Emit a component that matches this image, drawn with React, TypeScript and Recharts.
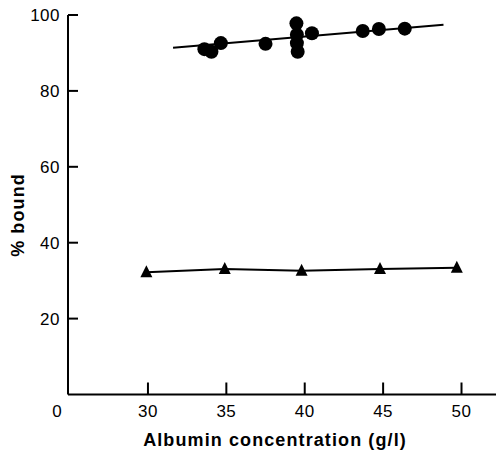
import React from 'react'
import { ComposedChart, Scatter, XAxis, YAxis, Label } from 'recharts'

// axis ticks (first x tick is the broken-axis origin, shown as "0")
const xTicks = [24.9, 30, 35, 40, 45, 50]
const yTicks = [20, 40, 60, 80, 100]

// circles: % bound vs albumin
const circleX = [33.6, 34.05, 34.65, 37.5, 39.47, 39.5, 39.5, 39.55, 40.46, 43.7, 44.73, 46.38]
const circleY = [91.0, 90.3, 92.6, 92.4, 97.8, 94.8, 92.6, 90.3, 95.2, 95.8, 96.3, 96.4]

// triangles
const triX = [29.9, 34.9, 39.8, 44.8, 49.7]
const triY = [32.2, 33.1, 32.6, 33.1, 33.4]

// fitted line through circles
const fitX = [31.6, 48.85]
const fitY = [91.4, 97.4]

const zip = (xs: number[], ys: number[]) => xs.map((x, i) => ({ x, y: ys[i] }))

const circles = zip(circleX, circleY)
const triangles = zip(triX, triY)
const fit = zip(fitX, fitY)

const font = '"Liberation Sans", Arial, sans-serif'

const XTick = (props: any) => {
  const { x, y, payload } = props
  if (payload.value === xTicks[0]) {
    return (
      <text x={x - 11} y={y + 22} textAnchor="middle" fontSize={17} fontFamily={font} fill="#000">
        0
      </text>
    )
  }
  return (
    <g>
      <line x1={x} x2={x} y1={y} y2={y - 12} stroke="#000" strokeWidth={2} />
      <text x={x} y={y + 22} textAnchor="middle" fontSize={17} letterSpacing={0.5} fontFamily={font} fill="#000">
        {payload.value}
      </text>
    </g>
  )
}

const YTick = (props: any) => {
  const { x, y, payload } = props
  return (
    <g>
      <line x1={x} x2={x + 10} y1={y} y2={y} stroke="#000" strokeWidth={2} />
      <text x={x - 8} y={y + 6} textAnchor="end" fontSize={17} letterSpacing={0.5} fontFamily={font} fill="#000">
        {payload.value}
      </text>
    </g>
  )
}

const Dot = (props: any) => <circle cx={props.cx} cy={props.cy} r={7} fill="#000" />

const Tri = (props: any) => {
  const { cx, cy } = props
  return <polygon points={`${cx},${cy - 7} ${cx - 6},${cy + 5} ${cx + 6},${cy + 5}`} fill="#000" />
}

const NoShape = () => null

export default function App() {
  return (
    <div style={{ position: 'absolute', left: 0, top: 0, background: '#fff' }}>
      <ComposedChart width={496} height={452} margin={{ top: 15, right: 0, bottom: 0, left: 0 }}>
        <XAxis
          type="number"
          dataKey="x"
          domain={[24.9, 52.2]}
          ticks={xTicks}
          tick={<XTick />}
          tickLine={false}
          tickSize={0}
          tickMargin={0}
          height={57.5}
          axisLine={{ stroke: '#000', strokeWidth: 2 }}
          allowDataOverflow
        >
          <Label
            content={({ viewBox }: any) => (
              <text
                x={viewBox.x + viewBox.width / 2 - 7}
                y={viewBox.y + 51}
                textAnchor="middle"
                fontSize={18}
                letterSpacing={1.1}
                fontWeight="bold"
                fontFamily={font}
                fill="#000"
              >
                Albumin concentration (g/l)
              </text>
            )}
          />
        </XAxis>
        <YAxis
          type="number"
          dataKey="y"
          domain={[0, 100]}
          ticks={yTicks}
          tick={<YTick />}
          tickLine={false}
          tickSize={0}
          tickMargin={0}
          width={68}
          axisLine={{ stroke: '#000', strokeWidth: 2 }}
        >
          <Label
            content={() => (
              <text
                x={24}
                y={215}
                transform="rotate(-90 24 215)"
                textAnchor="middle"
                fontSize={18}
                letterSpacing={1.1}
                fontWeight="bold"
                fontFamily={font}
                fill="#000"
              >
                % bound
              </text>
            )}
          />
        </YAxis>
        <Scatter
          data={fit}
          line={{ stroke: '#000', strokeWidth: 2 }}
          shape={<NoShape />}
          isAnimationActive={false}
        />
        <Scatter data={circles} shape={<Dot />} isAnimationActive={false} />
        <Scatter
          data={triangles}
          line={{ stroke: '#000', strokeWidth: 2 }}
          shape={<Tri />}
          isAnimationActive={false}
        />
      </ComposedChart>
    </div>
  )
}
